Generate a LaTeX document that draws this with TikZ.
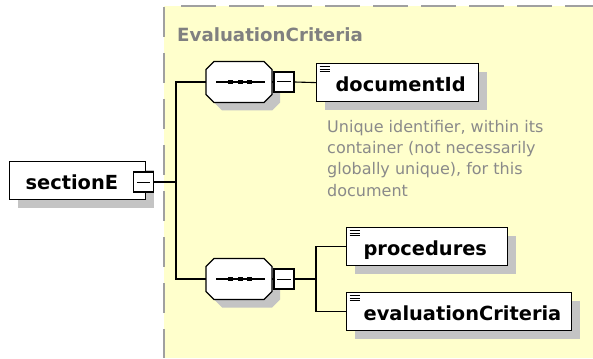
\documentclass[tikz,border=0pt]{standalone}
\usepackage{fontspec}
\setmainfont{DejaVu Sans}
\usetikzlibrary{shadows}
\definecolor{grpfill}{HTML}{FFFFCC}
\definecolor{shadowgray}{HTML}{C4C4C4}
\definecolor{titlegray}{HTML}{808080}
\definecolor{descgray}{HTML}{8A8A8A}
\definecolor{dashgray}{HTML}{A0A0A0}
\begin{document}
\begin{tikzpicture}[x=1pt,y=-1pt,
  conn/.style={line width=1.1pt},
  elbox/.style={draw, fill=white, line width=1.2pt, inner ysep=0pt,
    text height=17pt, text depth=0pt, minimum height=38pt, anchor=north west,
    font=\fontsize{19.4}{22}\selectfont\bfseries,
    general shadow={fill=shadowgray, shadow xshift=8pt, shadow yshift=-8pt}},
  seqbox/.style={rectangle, minimum width=66pt, minimum height=41pt, inner sep=0pt},
  btn/.style={draw, fill=white, line width=1.1pt, minimum size=20pt, inner sep=0pt},
  icon/.style={line width=0.9pt},
]
\useasboundingbox (0,0) rectangle (593,358);
% group area
\fill[grpfill] (164,6) rectangle (593,358);
\draw[dashgray, line width=2pt, dash pattern=on 35pt off 13pt] (181,6) -- (593,6);
\draw[dashgray, line width=2pt, dash pattern=on 30pt off 16pt] (164,7) -- (164,358);
\node[anchor=base west, inner sep=0pt, text=titlegray,
  font=\fontsize{18.2}{20}\selectfont\bfseries] (title) at (177,42) {EvaluationCriteria};

% root element
\node[elbox, inner xsep=16pt] (sec) at (9,161) {\makebox[104pt][l]{sectionE}};
\node[btn] (secbtn) at (143.5,182) {};
\draw[line width=1pt] ([xshift=4pt]secbtn.west) -- ([xshift=-4pt]secbtn.east);

% sequences
\node[seqbox] (seq1) at (239,82) {};
\node[seqbox] (seq2) at (239,279) {};
\foreach \s in {seq1,seq2}{
  \fill[shadowgray, shift={(\s.center)}, xshift=8pt, yshift=-8pt]
    (-25,-20.5) -- (25,-20.5) -- (33,-12.5) -- (33,12.5) -- (25,20.5)
    -- (-25,20.5) -- (-33,12.5) -- (-33,-12.5) -- cycle;
  \draw[line width=1.1pt, fill=white, shift={(\s.center)}]
    (-25,-20.5) -- (25,-20.5) -- (33,-12.5) -- (33,12.5) -- (25,20.5)
    -- (-25,20.5) -- (-33,12.5) -- (-33,-12.5) -- cycle;
  \draw[line width=1.1pt] ([xshift=-23pt]\s.center) -- ([xshift=26pt]\s.center);
  \fill[shift={(\s.center)}] (-11,-2) rectangle (-6,2);
  \fill[shift={(\s.center)}] (-1.5,-2) rectangle (3.5,2);
  \fill[shift={(\s.center)}] (8,-2) rectangle (13,2);
}
\node[btn] (btn1) at (284,82) {};
\node[btn] (btn2) at (284,279) {};
\foreach \b in {btn1,btn2}{
  \draw[line width=1pt] ([xshift=4pt]\b.west) -- ([xshift=-4pt]\b.east);
}

% child elements
\node[elbox, inner xsep=19pt] (docid) at (316,63) {\makebox[124pt][l]{documentId}};
\node[elbox, inner xsep=17pt] (proc) at (346,227) {\makebox[127pt][l]{procedures}};
\node[elbox, inner xsep=17pt] (evc) at (346,292) {\makebox[191pt][l]{evaluationCriteria}};
\foreach \n in {docid,proc,evc}{
  \foreach \d in {3.5,6,8.5}{
    \draw[icon] ([xshift=3.5pt,yshift=-\d pt]\n.north west) -- ++(10,0);
  }
}

% description
\node[anchor=north west, inner sep=0pt, align=left, text=descgray,
  font=\fontsize{16}{21.3}\selectfont] (desc) at (327,119)
  {\rule{0pt}{13pt}Unique identifier, within its\\container (not necessarily\\globally unique), for this\\document};

% connectors
\coordinate (j1) at (176,182);
\coordinate (j2) at (316,279);
\draw[conn] (secbtn.east) -- (j1);
\draw[conn] (j1) |- (seq1.west);
\draw[conn] (j1) |- (seq2.west);
\draw[conn] (seq1.east) -- (btn1.west);
\draw[conn] (btn1.east) -- (docid.west);
\draw[conn] (seq2.east) -- (btn2.west);
\draw[conn] (btn2.east) -- (j2);
\draw[conn] (j2) |- (proc.west);
\draw[conn] (j2) |- (evc.west);
\end{tikzpicture}
\end{document}
